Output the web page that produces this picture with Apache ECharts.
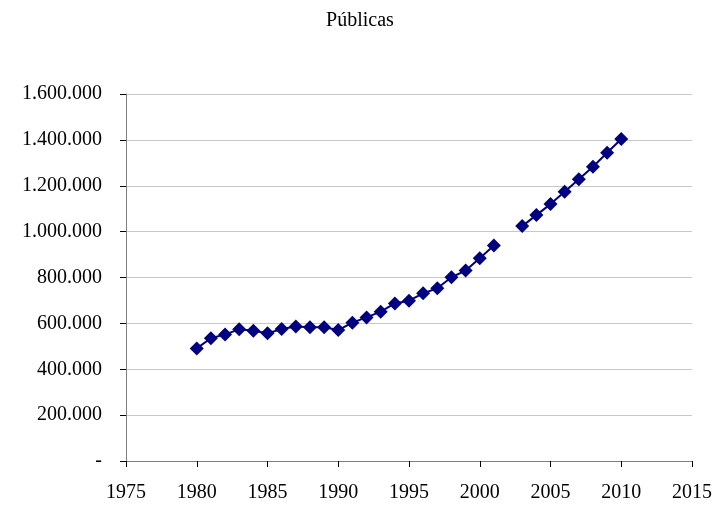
<!DOCTYPE html>
<html>
<head>
<meta charset="utf-8">
<script src="https://cdn.jsdelivr.net/npm/echarts@6/dist/echarts.min.js"></script>
<style>
  html, body { margin: 0; padding: 0; background: #fff; }
</style>
</head>
<body>
<div id="chart" style="width: 720px; height: 510px;"></div>
<script>
// years and values (2002 missing)
const years = [1980, 1981, 1982, 1983, 1984, 1985, 1986, 1987, 1988, 1989,
  1990, 1991, 1992, 1993, 1994, 1995, 1996, 1997, 1998, 1999,
  2000, 2001, 2002, 2003, 2004, 2005, 2006, 2007, 2008, 2009, 2010]
const publicas = [491000, 535000, 552000, 574000, 568000, 557000, 575000, 586000, 583000, 583000,
  571000, 603000, 626000, 651000, 687000, 699000, 731000, 753000, 801000, 830000,
  884000, 939000, null, 1024000, 1072000, 1120000, 1174000, 1228000, 1283000, 1344000, 1404000]

const fmt = v => v === 0 ? '-' : String(v).replace(/\B(?=(\d{3})+(?!\d))/g, '.')
const font = 'Liberation Serif'

const chart = echarts.init(document.getElementById('chart'))
chart.setOption({
  animation: false,
  title: {
    text: 'Públicas',
    left: 'center',
    top: 6,
    textStyle: { fontFamily: font, fontSize: 20, fontWeight: 'normal', color: '#000' }
  },
  grid: { left: 126, right: 28, top: 94, bottom: 49 },
  xAxis: {
    type: 'value',
    min: 1975,
    max: 2015,
    interval: 5,
    axisLine: { lineStyle: { color: '#808080' } },
    axisTick: { length: 6, lineStyle: { color: '#000' } },
    splitLine: { show: false },
    axisLabel: { fontFamily: font, fontSize: 20, color: '#000', margin: 22, formatter: v => String(v) }
  },
  yAxis: {
    type: 'value',
    min: 0,
    max: 1600000,
    interval: 200000,
    axisLine: { show: true, lineStyle: { color: '#808080' } },
    axisTick: { show: true, length: 6, lineStyle: { color: '#000' } },
    splitLine: { lineStyle: { color: '#c8c8c8' } },
    axisLabel: { fontFamily: font, fontSize: 20, color: '#000', margin: 24, formatter: fmt }
  },
  series: [{
    name: 'Públicas',
    type: 'line',
    data: years.map((y, i) => [y, publicas[i] === null ? '-' : publicas[i]]),
    connectNulls: false,
    symbol: 'diamond',
    symbolSize: 14,
    itemStyle: { color: '#000080' },
    lineStyle: { color: '#000080', width: 2 }
  }]
})
</script>
</body>
</html>
